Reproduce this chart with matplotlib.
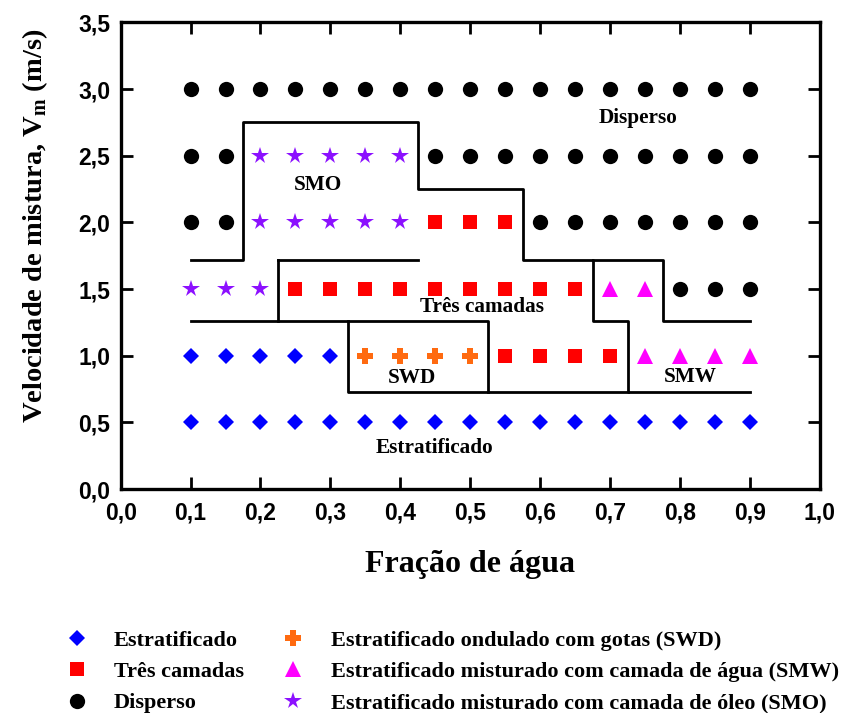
"""
plot.py - mapa de padrões de escoamento (fração de água x velocidade de mistura)
"""
import matplotlib
matplotlib.use("Agg")
import matplotlib.pyplot as plt
from matplotlib.lines import Line2D

plt.rcParams["mathtext.fontset"] = "custom"
plt.rcParams["mathtext.rm"] = "Liberation Serif:bold"
plt.rcParams["mathtext.bf"] = "Liberation Serif:bold"

# pontos experimentais por padrão de escoamento
estrat_x = [0.1, 0.15, 0.2, 0.25, 0.3, 0.35, 0.4, 0.45, 0.5, 0.55, 0.6, 0.65, 0.7, 0.75, 0.8, 0.85, 0.9,
            0.1, 0.15, 0.2, 0.25, 0.3]
estrat_y = [0.5] * 17 + [1.0] * 5

tres_x = [0.55, 0.6, 0.65, 0.7,
          0.25, 0.3, 0.35, 0.4, 0.45, 0.5, 0.55, 0.6, 0.65,
          0.45, 0.5, 0.55]
tres_y = [1.0] * 4 + [1.5] * 9 + [2.0] * 3

disp_x = [0.8, 0.85, 0.9,
          0.1, 0.15, 0.6, 0.65, 0.7, 0.75, 0.8, 0.85, 0.9,
          0.1, 0.15, 0.45, 0.5, 0.55, 0.6, 0.65, 0.7, 0.75, 0.8, 0.85, 0.9,
          0.1, 0.15, 0.2, 0.25, 0.3, 0.35, 0.4, 0.45, 0.5, 0.55, 0.6, 0.65, 0.7, 0.75, 0.8, 0.85, 0.9]
disp_y = [1.5] * 3 + [2.0] * 9 + [2.5] * 12 + [3.0] * 17

swd_x = [0.35, 0.4, 0.45, 0.5]
swd_y = [1.0] * 4

smw_x = [0.75, 0.8, 0.85, 0.9, 0.7, 0.75]
smw_y = [1.0] * 4 + [1.5] * 2

smo_x = [0.1, 0.15, 0.2, 0.2, 0.25, 0.3, 0.35, 0.4, 0.2, 0.25, 0.3, 0.35, 0.4]
smo_y = [1.5] * 3 + [2.0] * 5 + [2.5] * 5

# fronteiras de transição (linhas)
fronteira_smo_x = [0.1, 0.175, 0.175, 0.425, 0.425, 0.575, 0.575, 0.675, 0.675, 0.725, 0.725, 0.9]
fronteira_smo_y = [1.72, 1.72, 2.755, 2.755, 2.25, 2.25, 1.72, 1.72, 1.26, 1.26, 0.73, 0.73]
fronteira_tres_x = [0.1, 0.525, 0.525]
fronteira_tres_y = [1.26, 1.26, 0.73]
fronteira_tres2_x = [0.225, 0.225]
fronteira_tres2_y = [1.26, 1.72]
fronteira_topo_x = [0.225, 0.425]
fronteira_topo_y = [1.72, 1.72]
fronteira_swd_x = [0.325, 0.325, 0.725]
fronteira_swd_y = [1.26, 0.73, 0.73]
fronteira_smw_x = [0.675, 0.775, 0.775, 0.9]
fronteira_smw_y = [1.72, 1.72, 1.26, 1.26]

# rótulos das regiões
regioes = ["Disperso", "SMO", "Três camadas", "SWD", "SMW", "Estratificado"]
regioes_x = [0.74, 0.282, 0.517, 0.417, 0.815, 0.449]
regioes_y = [2.78, 2.28, 1.365, 0.83, 0.84, 0.31]

xticks = [0.0, 0.1, 0.2, 0.3, 0.4, 0.5, 0.6, 0.7, 0.8, 0.9, 1.0]
yticks = [0.0, 0.5, 1.0, 1.5, 2.0, 2.5, 3.0, 3.5]

SERIF = ["Liberation Serif", "DejaVu Serif"]
SANS = ["Liberation Sans", "DejaVu Sans"]

fig = plt.figure(figsize=(8.46, 7.13), dpi=100)
ax = fig.add_axes([0.1426, 0.314, 0.8265, 0.6546])

estilos = [
    (estrat_x, estrat_y, "D", "#0000ff", 8.3, "Estratificado"),
    (tres_x, tres_y, "s", "#ff0000", 10.5, "Três camadas"),
    (disp_x, disp_y, "o", "black", 11, "Disperso"),
    (swd_x, swd_y, "P", "#ff6a10", 11, "Estratificado ondulado com gotas (SWD)"),
    (smw_x, smw_y, "^", "#ff00ff", 11, "Estratificado misturado com camada de água (SMW)"),
    (smo_x, smo_y, "*", "#8c10ff", 13, "Estratificado misturado com camada de óleo (SMO)"),
]

handles = []
for xs, ys, mk, cor, ms, nome in estilos:
    ax.plot(xs, ys, linestyle="none", marker=mk, color=cor, markersize=ms,
            markeredgewidth=0, clip_on=False)
    handles.append(Line2D([], [], linestyle="none", marker=mk, color=cor,
                          markersize=ms, markeredgewidth=0, label=nome))

for fx, fy in [(fronteira_smo_x, fronteira_smo_y), (fronteira_tres_x, fronteira_tres_y),
               (fronteira_tres2_x, fronteira_tres2_y), (fronteira_topo_x, fronteira_topo_y),
               (fronteira_swd_x, fronteira_swd_y), (fronteira_smw_x, fronteira_smw_y)]:
    ax.plot(fx, fy, color="black", linewidth=2, solid_capstyle="projecting")

for nome, rx, ry in zip(regioes, regioes_x, regioes_y):
    ax.text(rx, ry, nome, ha="center", va="center", fontsize=15.3,
            fontweight="bold", family=SERIF)

ax.set_xlim(0, 1.0)
ax.set_ylim(0, 3.5)
ax.set_xticks(xticks)
ax.set_yticks(yticks)
ax.set_xticklabels([("%.1f" % t).replace(".", ",") for t in xticks])
ax.set_yticklabels([("%.1f" % t).replace(".", ",") for t in yticks])
ax.tick_params(direction="in", length=8.5, width=2, top=True, right=True)
ax.tick_params(axis="x", pad=9)
ax.tick_params(axis="y", pad=7.5)
for lbl in ax.get_xticklabels() + ax.get_yticklabels():
    lbl.set_family(SANS)
    lbl.set_fontsize(16.5)
    lbl.set_fontweight("bold")
for sp in ax.spines.values():
    sp.set_linewidth(2.4)

ax.set_xlabel("Fração de água", fontsize=23, fontweight="bold", family=SERIF)
ax.xaxis.set_label_coords(0.5, -0.1306)
ax.set_ylabel(r"Velocidade de mistura, V$_\mathbf{m}$ (m/s)", fontsize=20.5,
              fontweight="bold", family=SERIF)
ax.yaxis.set_label_coords(-0.1007, 0.565)

prop = {"family": SERIF, "weight": "bold", "size": 16}
leg_opts = dict(frameon=False, loc="upper left", borderpad=0, borderaxespad=0,
                handlelength=1.2, handletextpad=1.08, labelspacing=0.49, prop=prop)
fig.legend(handles=handles[:3], bbox_to_anchor=(0.0749, 0.1164), **leg_opts)
fig.legend(handles=handles[3:], bbox_to_anchor=(0.331, 0.1164), **leg_opts)

fig.savefig("out.png", dpi=100)
